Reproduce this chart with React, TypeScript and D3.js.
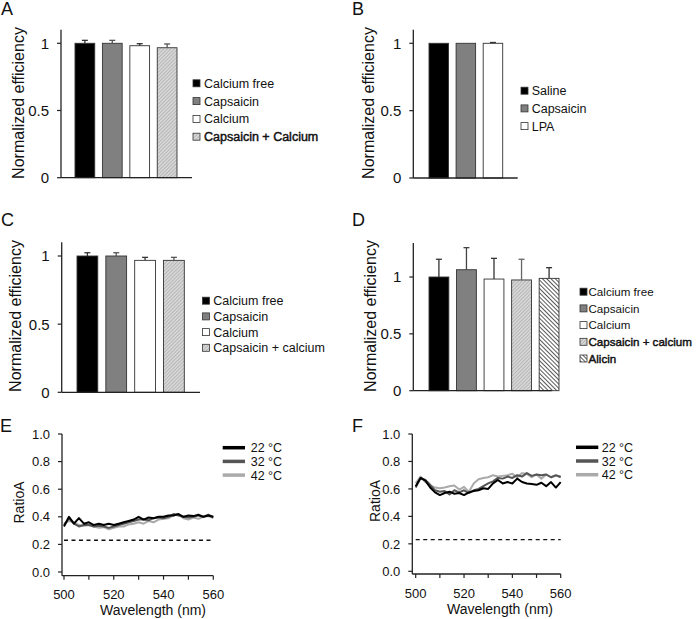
import React from 'react';
import * as d3 from 'd3';

const FONT = '"Liberation Sans", Arial, Helvetica, sans-serif';

// ---------- Data ----------
const catsA = ['Calcium free', 'Capsaicin', 'Calcium', 'Capsaicin + Calcium'];
const valsA = [1.0, 1.0, 0.982, 0.967];
const errA = [0.022, 0.022, 0.015, 0.028];

const catsB = ['Saline', 'Capsaicin', 'LPA'];
const valsB = [1.0, 1.0, 1.0];
const errB = [0, 0, 0.006];

const catsC = ['Calcium free', 'Capsaicin', 'Calcium', 'Capsaicin + calcium'];
const valsC = [1.0, 1.0, 0.968, 0.968];
const errC = [0.024, 0.024, 0.022, 0.022];

const catsD = ['Calcium free', 'Capsaicin', 'Calcium', 'Capsaicin + calcium', 'Alicin'];
const valsD = [1.0, 1.064, 0.982, 0.974, 0.988];
const errD = [0.156, 0.194, 0.182, 0.182, 0.094];

const barTicks = [0, 0.5, 1];
const barTickLabels = ['0', '0.5', '1'];

const wavelengths = [500, 502, 504, 506, 508, 510, 512, 514, 516, 518, 520, 522, 524, 526, 528, 530, 532, 534, 536, 538, 540, 542, 544, 546, 548, 550, 552, 554, 556, 558, 560];
const seriesNames = ['22 °C', '32 °C', '42 °C'];

const e22 = [0.33, 0.40, 0.35, 0.39, 0.35, 0.36, 0.34, 0.35, 0.34, 0.35, 0.34, 0.35, 0.36, 0.37, 0.38, 0.40, 0.38, 0.395, 0.39, 0.40, 0.40, 0.41, 0.41, 0.42, 0.40, 0.41, 0.405, 0.415, 0.40, 0.41, 0.40];
const e32 = [0.34, 0.39, 0.35, 0.33, 0.34, 0.34, 0.33, 0.335, 0.33, 0.32, 0.33, 0.34, 0.35, 0.36, 0.37, 0.38, 0.38, 0.375, 0.39, 0.395, 0.39, 0.40, 0.42, 0.41, 0.40, 0.395, 0.40, 0.41, 0.40, 0.415, 0.395];
const e42 = [0.35, 0.37, 0.36, 0.34, 0.335, 0.34, 0.33, 0.32, 0.325, 0.31, 0.32, 0.33, 0.33, 0.345, 0.35, 0.36, 0.35, 0.37, 0.36, 0.38, 0.385, 0.39, 0.41, 0.42, 0.39, 0.38, 0.395, 0.385, 0.40, 0.405, 0.39];

const f22 = [0.62, 0.68, 0.66, 0.61, 0.575, 0.555, 0.57, 0.58, 0.565, 0.57, 0.555, 0.575, 0.585, 0.59, 0.605, 0.60, 0.64, 0.665, 0.64, 0.65, 0.64, 0.675, 0.65, 0.64, 0.635, 0.63, 0.645, 0.62, 0.65, 0.61, 0.65];
const f32 = [0.61, 0.68, 0.665, 0.63, 0.59, 0.58, 0.585, 0.56, 0.59, 0.575, 0.59, 0.57, 0.59, 0.60, 0.62, 0.64, 0.655, 0.68, 0.675, 0.69, 0.68, 0.70, 0.69, 0.715, 0.695, 0.705, 0.70, 0.705, 0.685, 0.70, 0.685];
const f42 = [0.64, 0.69, 0.65, 0.625, 0.61, 0.605, 0.61, 0.62, 0.625, 0.595, 0.615, 0.58, 0.64, 0.67, 0.68, 0.685, 0.70, 0.69, 0.695, 0.70, 0.71, 0.685, 0.715, 0.71, 0.685, 0.705, 0.675, 0.705, 0.685, 0.695, 0.695];

const baselineRatio = 0.23;
const lineYTicks = [0, 0.2, 0.4, 0.6, 0.8, 1.0];
const lineXTicks = [500, 510, 520, 530, 540, 550, 560];
const lineXLabels = [500, 520, 540, 560];

// ---------- Styles ----------
const FILLS: Record<string, string> = {
  black: '#000',
  gray: '#808080',
  white: '#fff',
  hatch: 'url(#hatch)',
  stripe: 'url(#stripe)',
};
const LINE_COLORS = ['#000', '#555', '#aaa'];

type BarCfg = {
  letter: string; lx: number; ly: number;
  axisX: number; axisEnd: number; yZero: number; yOne: number; yMax: number;
  band: [number, number];
  legX: number; legY: number; legStep: number; textX: number; legFont: number;
  ylabX: number; ylabY: number;
  fills: string[]; bold: boolean[]; errColors: string[];
};

function BarPanel({ cfg, cats, vals, errs }: { cfg: BarCfg; cats: string[]; vals: number[]; errs: number[] }) {
  const y = d3.scaleLinear().domain([0, 1]).range([cfg.yZero, cfg.yOne]);
  const x = d3.scaleBand<number>().domain(d3.range(cats.length)).range(cfg.band).paddingInner(0.28).paddingOuter(0);
  const bw = x.bandwidth();
  return (
    <g>
      <text x={cfg.lx} y={cfg.ly} fontSize={18} fill="#111">{cfg.letter}</text>
      <text transform={`translate(${cfg.ylabX},${cfg.ylabY}) rotate(-90)`} textAnchor="middle" fontSize={16} fill="#111">Normalized efficiency</text>
      {vals.map((v, i) => (
        <rect key={'b' + i} x={x(i)} y={y(v)} width={bw} height={y(0) - y(v)} fill={FILLS[cfg.fills[i]]} stroke="#333" strokeWidth={0.9} />
      ))}
      {vals.map((v, i) => errs[i] > 0 ? (
        <g key={'e' + i} stroke={cfg.errColors[i]} strokeWidth={1.3}>
          <line x1={x(i)! + bw / 2} x2={x(i)! + bw / 2} y1={y(v)} y2={y(v + errs[i])} />
          <line x1={x(i)! + bw / 2 - 3} x2={x(i)! + bw / 2 + 3} y1={y(v + errs[i])} y2={y(v + errs[i])} />
        </g>
      ) : null)}
      <line x1={cfg.axisX} x2={cfg.axisX} y1={y(0)} y2={y(cfg.yMax)} stroke="#222" strokeWidth={1.3} />
      <line x1={cfg.axisX} x2={cfg.axisEnd} y1={y(0)} y2={y(0)} stroke="#222" strokeWidth={1.3} />
      {barTicks.map((t, i) => (
        <g key={'t' + i}>
          <line x1={cfg.axisX - 4} x2={cfg.axisX} y1={y(t)} y2={y(t)} stroke="#222" strokeWidth={1.2} />
          <text x={cfg.axisX - 12} y={y(t)} dy="0.36em" textAnchor="end" fontSize={15} fill="#111">{barTickLabels[i]}</text>
        </g>
      ))}
      {cats.map((c, i) => (
        <g key={'l' + i} transform={`translate(0,${cfg.legY + i * cfg.legStep})`}>
          <rect x={cfg.legX} y={-3.5} width={7} height={7} fill={FILLS[cfg.fills[i]]} stroke="#333" strokeWidth={0.8} />
          <text x={cfg.textX} y={0} dy="0.36em" fontSize={cfg.legFont} fill="#111"
            stroke={cfg.bold[i] ? '#111' : 'none'} strokeWidth={cfg.bold[i] ? 0.45 : 0}>{c}</text>
        </g>
      ))}
    </g>
  );
}

type LineCfg = {
  letter: string; lx: number; ly: number;
  axisX: number; xAxisY: number; xr: [number, number]; yr: [number, number];
  legX1: number; legX2: number; legY: number; legStep: number; textX: number;
  ylabX: number; ylabY: number; xlabX: number; xlabY: number; tickLabY: number;
};

function LinePanel({ cfg, series }: { cfg: LineCfg; series: number[][] }) {
  const x = d3.scaleLinear().domain([500, 560]).range(cfg.xr);
  const y = d3.scaleLinear().domain([0, 1]).range(cfg.yr);
  const line = d3.line<number>().x((_, i) => x(wavelengths[i])).y(d => y(d));
  const order = [2, 1, 0];
  return (
    <g>
      <text x={cfg.lx} y={cfg.ly} fontSize={18} fill="#111">{cfg.letter}</text>
      <text transform={`translate(${cfg.ylabX},${cfg.ylabY}) rotate(-90)`} textAnchor="middle" fontSize={14} fill="#111">RatioA</text>
      <text x={cfg.xlabX} y={cfg.xlabY} textAnchor="middle" fontSize={14} fill="#111">Wavelength (nm)</text>
      <line x1={x(500)} x2={x(560)} y1={y(baselineRatio)} y2={y(baselineRatio)} stroke="#111" strokeWidth={1.3} strokeDasharray="4,3.5" />
      {order.map(k => (
        <path key={k} d={line(series[k]) || ''} fill="none" stroke={LINE_COLORS[k]} strokeWidth={2} strokeLinejoin="round" />
      ))}
      <line x1={cfg.axisX} x2={cfg.axisX} y1={y(1)} y2={cfg.xAxisY} stroke="#222" strokeWidth={1.3} />
      <line x1={cfg.axisX} x2={x(560)} y1={cfg.xAxisY} y2={cfg.xAxisY} stroke="#222" strokeWidth={1.3} />
      {lineYTicks.map((t, i) => (
        <g key={'yt' + i}>
          <line x1={cfg.axisX - 4} x2={cfg.axisX} y1={y(t)} y2={y(t)} stroke="#222" strokeWidth={1.2} />
          <text x={cfg.axisX - 12} y={y(t)} dy="0.36em" textAnchor="end" fontSize={13} fill="#111">{t.toFixed(1)}</text>
        </g>
      ))}
      {lineXTicks.map((t, i) => (
        <line key={'xt' + i} x1={x(t)} x2={x(t)} y1={cfg.xAxisY} y2={cfg.xAxisY + 4} stroke="#222" strokeWidth={1.2} />
      ))}
      {lineXLabels.map((t, i) => (
        <text key={'xl' + i} x={x(t)} y={cfg.tickLabY} textAnchor="middle" fontSize={13} fill="#111">{t}</text>
      ))}
      {seriesNames.map((n, i) => (
        <g key={'lg' + i}>
          <line x1={cfg.legX1} x2={cfg.legX2} y1={cfg.legY + i * cfg.legStep} y2={cfg.legY + i * cfg.legStep} stroke={LINE_COLORS[i]} strokeWidth={3.5} />
          <text x={cfg.textX} y={cfg.legY + i * cfg.legStep} dy="0.36em" fontSize={12.5} fill="#111">{n}</text>
        </g>
      ))}
    </g>
  );
}

const cfgA: BarCfg = {
  letter: 'A', lx: 1, ly: 15, axisX: 61, axisEnd: 192, yZero: 177.7, yOne: 43.3, yMax: 1.1,
  band: [75, 177], legX: 193, legY: 83.3, legStep: 17.8, textX: 204, legFont: 12.5, ylabX: 24, ylabY: 103,
  fills: ['black', 'gray', 'white', 'hatch'], bold: [false, false, false, true], errColors: ['#333', '#555', '#333', '#555'],
};
const cfgB: BarCfg = {
  letter: 'B', lx: 352, ly: 15, axisX: 413.3, axisEnd: 517.7, yZero: 178, yOne: 43.3, yMax: 1.1,
  band: [429, 502.7], legX: 521, legY: 90.7, legStep: 17.7, textX: 531.7, legFont: 12.5, ylabX: 374, ylabY: 103,
  fills: ['black', 'gray', 'white'], bold: [false, false, false], errColors: ['#333', '#555', '#333'],
};
const cfgC: BarCfg = {
  letter: 'C', lx: 1, ly: 226, axisX: 61.7, axisEnd: 200, yZero: 392.3, yOne: 256, yMax: 1.1,
  band: [77, 184.3], legX: 202.5, legY: 300.7, legStep: 15.7, textX: 213.3, legFont: 12.5, ylabX: 21, ylabY: 316,
  fills: ['black', 'gray', 'white', 'hatch'], bold: [false, false, false, false], errColors: ['#333', '#555', '#333', '#555'],
};
const cfgD: BarCfg = {
  letter: 'D', lx: 352, ly: 226, axisX: 413.3, axisEnd: 551.7, yZero: 390.7, yOne: 277, yMax: 1.3,
  band: [429, 559], legX: 580, legY: 291.7, legStep: 16.7, textX: 588.5, legFont: 11.6, ylabX: 376, ylabY: 316,
  fills: ['black', 'gray', 'white', 'hatch', 'stripe'], bold: [false, false, false, true, true], errColors: ['#333', '#444', '#333', '#666', '#333'],
};
const cfgE: LineCfg = {
  letter: 'E', lx: 0, ly: 431.5, axisX: 62, xAxisY: 575.7, xr: [64, 213.3], yr: [572, 434],
  legX1: 222.7, legX2: 245, legY: 447.7, legStep: 13.7, textX: 250.7,
  ylabX: 24, ylabY: 502.5, xlabX: 153, xlabY: 615, tickLabY: 599,
};
const cfgF: LineCfg = {
  letter: 'F', lx: 352, ly: 431.5, axisX: 412.3, xAxisY: 574, xr: [415.7, 560.7], yr: [571.3, 434],
  legX1: 576, legX2: 598.3, legY: 447.3, legStep: 13.7, textX: 601.7,
  ylabX: 380, ylabY: 501, xlabX: 500, xlabY: 613.5, tickLabY: 598,
};

export default function App() {
  return (
    <svg width={700} height={619} style={{ position: 'absolute', left: 0, top: 0, background: '#fff' }} fontFamily={FONT}>
      <defs>
        <pattern id="hatch" width={2.5} height={2.5} patternUnits="userSpaceOnUse" patternTransform="rotate(45)">
          <rect width={2.5} height={2.5} fill="#d6d6d6" />
          <line x1={0} y1={0} x2={0} y2={2.5} stroke="#8e8e8e" strokeWidth={0.8} />
        </pattern>
        <pattern id="stripe" width={3} height={3} patternUnits="userSpaceOnUse" patternTransform="rotate(-45)">
          <rect width={3} height={3} fill="#fff" />
          <line x1={0} y1={0} x2={0} y2={3} stroke="#111" strokeWidth={1.4} />
        </pattern>
      </defs>
      <rect width={700} height={619} fill="#fff" />
      <BarPanel cfg={cfgA} cats={catsA} vals={valsA} errs={errA} />
      <BarPanel cfg={cfgB} cats={catsB} vals={valsB} errs={errB} />
      <BarPanel cfg={cfgC} cats={catsC} vals={valsC} errs={errC} />
      <BarPanel cfg={cfgD} cats={catsD} vals={valsD} errs={errD} />
      <LinePanel cfg={cfgE} series={[e22, e32, e42]} />
      <LinePanel cfg={cfgF} series={[f22, f32, f42]} />
    </svg>
  );
}
